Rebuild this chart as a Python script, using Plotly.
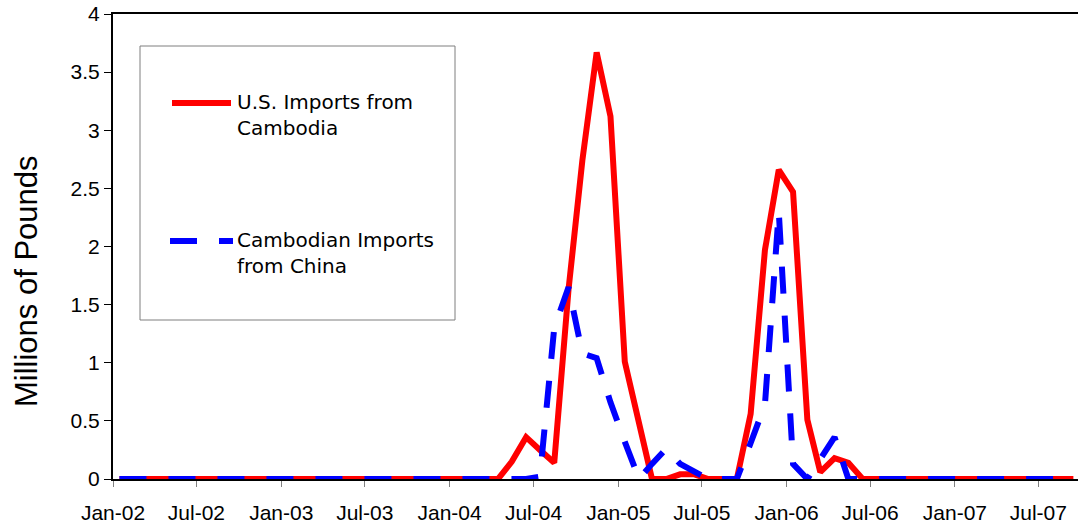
import pandas as pd
import plotly.graph_objects as go

# Monthly observations, Jan-2002 .. Sep-2007 (plotted mid-month)
months = pd.date_range("2002-01-01", periods=69, freq="MS") + pd.Timedelta(days=14)

us_imports_from_cambodia = [
    0, 0, 0, 0, 0, 0, 0, 0, 0, 0, 0, 0,            # 2002
    0, 0, 0, 0, 0, 0, 0, 0, 0, 0, 0, 0,            # 2003
    0, 0, 0, 0, 0.15, 0.36, 0.25, 0.14, 1.63, 2.74, 3.67, 3.12,   # 2004
    1.01, 0.50, 0, 0, 0.04, 0.04, 0, 0, 0, 0.56, 1.97, 2.66,      # 2005
    2.47, 0.51, 0.06, 0.18, 0.14, 0, 0, 0, 0, 0, 0, 0,            # 2006
    0, 0, 0, 0, 0, 0, 0, 0, 0,                                     # 2007
]
cambodian_imports_from_china = [
    0, 0, 0, 0, 0, 0, 0, 0, 0, 0, 0, 0,
    0, 0, 0, 0, 0, 0, 0, 0, 0, 0, 0, 0,
    0, 0, 0, 0, 0, 0, 0.02, 1.30, 1.65, 1.08, 1.04, 0.66,
    0.32, 0, 0.13, 0.26, 0.13, 0.06, 0, 0, 0, 0.31, 0.64, 2.30,
    0.13, 0, 0.18, 0.36, 0, 0, 0, 0, 0, 0, 0, 0,
    0, 0, 0, 0, 0, 0, 0, 0, 0,
]

series_names = ["U.S. Imports from<br>Cambodia", "Cambodian Imports<br>from China"]
y_title = "Millions of Pounds"

RED = "#FF0000"
BLUE = "#0000FF"
DASH = "27px,22px"
TICKFONT = dict(family="Liberation Sans, Arial", size=21, color="black")

fig = go.Figure()
fig.add_trace(go.Scatter(x=months, y=us_imports_from_cambodia, mode="lines",
                         line=dict(color=RED, width=6), name=series_names[0],
                         showlegend=False))
fig.add_trace(go.Scatter(x=months, y=cambodian_imports_from_china, mode="lines",
                         line=dict(color=BLUE, width=6, dash=DASH), name=series_names[1],
                         showlegend=False))

# plot area in pixels: x 113..1078, y 14..479
L, R, T, B = 113, 1078, 14, 479
def px(x):
    return (x - L) / (R - L)
def py(y):
    return (B - y) / (B - T)

shapes = [
    dict(type="rect", xref="paper", yref="paper", x0=px(140), x1=px(455), y0=py(320), y1=py(46),
         line=dict(color="#7f7f7f", width=1), fillcolor="white", layer="above"),
    dict(type="line", xref="paper", yref="paper", x0=px(172), x1=px(231), y0=py(103), y1=py(103),
         line=dict(color=RED, width=6)),
    dict(type="line", xref="paper", yref="paper", x0=px(170), x1=px(233), y0=py(241), y1=py(241),
         line=dict(color=BLUE, width=6, dash=DASH)),
]
annotations = [
    dict(xref="paper", yref="paper", x=px(235), y=py(115.5), xanchor="left", yanchor="middle",
         text=series_names[0], showarrow=False, align="left",
         font=dict(family="DejaVu Sans", size=20, color="black")),
    dict(xref="paper", yref="paper", x=px(235), y=py(253), xanchor="left", yanchor="middle",
         text=series_names[1], showarrow=False, align="left",
         font=dict(family="DejaVu Sans", size=20, color="black")),
    dict(xref="paper", yref="paper", x=px(26), y=py(281), xanchor="center", yanchor="middle",
         text=y_title, textangle=-90, showarrow=False,
         font=dict(family="Liberation Sans, Arial", size=31, color="black")),
]

fig.update_layout(
    width=1078, height=529,
    margin=dict(l=L, r=1078 - R, t=T, b=529 - B, pad=0),
    paper_bgcolor="white", plot_bgcolor="white",
    font=dict(family="Liberation Sans, Arial", size=18, color="black"),
    shapes=shapes, annotations=annotations,
    xaxis=dict(type="date", range=["2002-01-01", "2007-09-25"],
               tick0="2002-01-01", dtick="M6", tickformat="%b-%y",
               ticks="outside", ticklen=6, tickcolor="#808080", tickwidth=1,
               ticklabelstandoff=8,
               showline=True, linecolor="black", linewidth=2, mirror=True,
               showgrid=False, zeroline=False, tickfont=TICKFONT),
    yaxis=dict(range=[0, 4], dtick=0.5, tick0=0,
               ticks="outside", ticklen=7, tickcolor="black", tickwidth=1,
               showline=True, linecolor="black", linewidth=2,
               showgrid=False, zeroline=False, tickfont=TICKFONT),
)

fig.write_html("out.html", config={"displayModeBar": False},
               post_script="document.body.style.margin='0';")
